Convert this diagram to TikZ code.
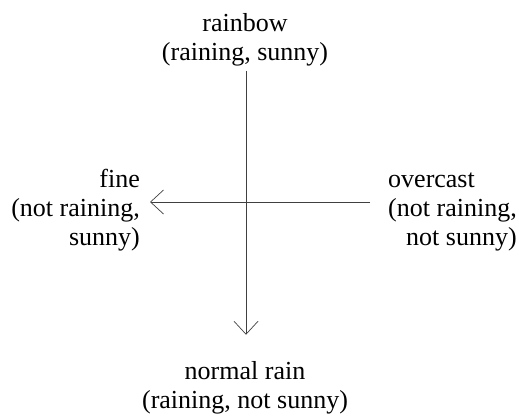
\documentclass[tikz,border=0pt]{standalone}
\usepackage{fontspec}
\setmainfont{Liberation Serif}
\usetikzlibrary{arrows.meta,positioning,calc}

\begin{document}
\begin{tikzpicture}[x=1pt, y=-1pt,
    lbl/.style={font=\fontsize{26}{29}\selectfont, inner sep=0pt, align=#1},
    arr/.style={-{Straight Barb[length=13pt,width=24pt,line width=0.7pt]},
                line width=0.7pt, black!75}]
    \useasboundingbox (0,0) rectangle (519,418);

    % the four states (base = last line)
    \node[lbl=center, anchor=base] (rainbow) at (245,60)
        {rainbow\\(raining, sunny)};
    \node[lbl=right, anchor=base east] (fine) at (140,245)
        {fine\\(not raining,\\sunny)};
    \node[lbl=right, anchor=base west] (overcast) at (388,245)
        {\makebox[0pt][l]{overcast}\phantom{(not raining,}\\(not raining,\\not sunny)};
    \node[lbl=center, anchor=base] (normal) at (245,408)
        {normal rain\\(raining, not sunny)};

    \coordinate (hub) at (246,202);

    % axes
    \draw[arr, shorten <=5pt, shorten >=26pt] (hub |- rainbow.south) -- (hub |- normal.north);
    \draw[arr, shorten <=18pt, shorten >=10pt] (overcast.west |- hub) -- (fine.east |- hub);
\end{tikzpicture}
\end{document}
